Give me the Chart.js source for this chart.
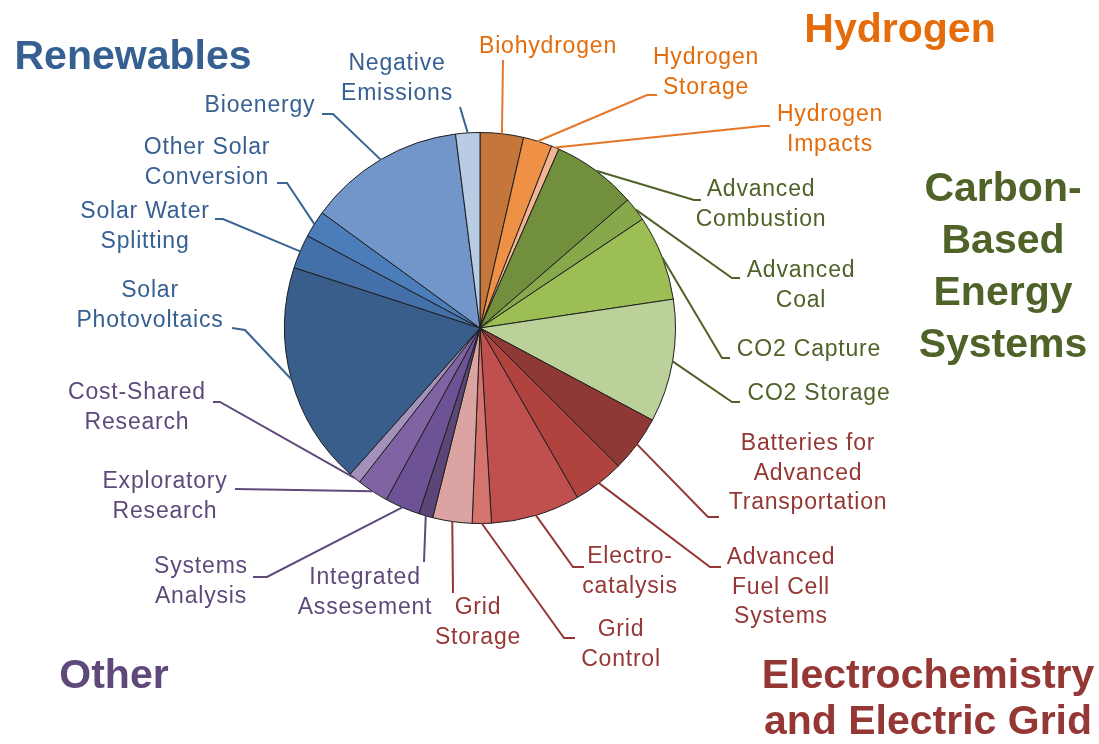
<!DOCTYPE html>
<html>
<head>
<meta charset="utf-8">
<script src="https://cdn.jsdelivr.net/npm/chart.js@4.4.1/dist/chart.umd.min.js"></script>
<style>
html,body{margin:0;background:#fff}
#wrap{width:1099px;height:744px;position:relative}
</style>
</head>
<body>
<div id="wrap"><canvas id="pie"></canvas></div>
<script>
// slices, clockwise from 12 o'clock (share of total, %)
const categories = [
  'Biohydrogen', 'Hydrogen\nStorage', 'Hydrogen\nImpacts',
  'Advanced\nCombustion', 'Advanced\nCoal', 'CO2 Capture', 'CO2 Storage',
  'Batteries for\nAdvanced\nTransportation', 'Advanced\nFuel Cell\nSystems', 'Electro-\ncatalysis',
  'Grid\nControl', 'Grid\nStorage',
  'Integrated\nAssesement', 'Systems\nAnalysis', 'Exploratory\nResearch', 'Cost-Shared\nResearch',
  'Solar\nPhotovoltaics', 'Solar Water\nSplitting', 'Other Solar\nConversion', 'Bioenergy', 'Negative\nEmissions'
]
const values = [
  3.58, 2.39, 0.64,
  7.03, 1.97, 7.03, 10.17,
  4.67, 4.22, 7.36, 1.58, 3.25,
  1.17, 2.89, 2.61, 1.00,
  18.44, 2.81, 2.22, 12.97, 2.00
]
// which group each slice belongs to
const groupOf = [0,0,0, 1,1,1,1, 2,2,2,2,2, 3,3,3,3, 4,4,4,4,4]
const groupNames = ['Hydrogen', 'Carbon-\nBased\nEnergy\nSystems', 'Electrochemistry\nand Electric Grid', 'Other', 'Renewables']

// styles
const sliceColors = [
  '#c5763a', '#ee9147', '#f2b493',
  '#718f3d', '#88a84c', '#9dbd55', '#bcd09a',
  '#8f3936', '#b1433f', '#c0504d', '#d5746f', '#dba3a1',
  '#5c4678', '#6d5395', '#8063a2', '#a391bb',
  '#3a5e8c', '#4370a8', '#4b7dbb', '#7296c9', '#b8cce4'
]
const groupColors = ['#e46c0a', '#4f6228', '#953735', '#5f497a', '#376092']
const lineColors = ['#e5762a', '#4f6228', '#953735', '#5f497a', '#3b6393']

// label layout: text centre x, first-line y, leader elbow, leader end
const labelLayout = [
  {x:548, y:47,  pts:[[503,60]]},
  {x:706, y:58,  pts:[[647,95],[657,95]]},
  {x:830, y:115, pts:[[762,126],[770,126]]},
  {x:761, y:190, pts:[[694,200],[701,200]]},
  {x:801, y:271, pts:[[732,278],[740,278]]},
  {x:809, y:350, pts:[[722,358],[730,358]]},
  {x:819, y:394, pts:[[732,402],[740,402]]},
  {x:808, y:444, pts:[[708,517],[719,517]]},
  {x:781, y:558, pts:[[710,567],[721,567]]},
  {x:630, y:557, pts:[[573,567],[584,567]]},
  {x:621, y:630, pts:[[564,638],[575,638]]},
  {x:478, y:608, pts:[[453,593]]},
  {x:365, y:578, pts:[[424,562]]},
  {x:201, y:567, pts:[[267,577],[253,577]]},
  {x:165, y:482, pts:[[235,489]]},
  {x:137, y:393, pts:[[220,402],[213,402]]},
  {x:150, y:291, pts:[[245,330],[232,328]]},
  {x:145, y:212, pts:[[223,219],[215,219]]},
  {x:207, y:148, pts:[[287,183],[277,183]]},
  {x:260, y:106, pts:[[333,114],[322,114]]},
  {x:397, y:64,  pts:[[460,107]]}
]
const headerLayout = [
  {x:900, y:31, lh:0},
  {x:1003, y:190, lh:52},
  {x:928, y:677, lh:46},
  {x:114, y:677, lh:0},
  {x:133, y:58, lh:0}
]

const calloutPlugin = {
  id: 'callouts',
  afterDraw(chart) {
    const ctx = chart.ctx
    const arcs = chart.getDatasetMeta(0).data
    ctx.save()
    arcs.forEach((arc, i) => {
      const p = arc.getProps(['x','y','startAngle','endAngle','outerRadius'], true)
      const mid = (p.startAngle + p.endAngle) / 2
      const sx = p.x + Math.cos(mid) * p.outerRadius
      const sy = p.y + Math.sin(mid) * p.outerRadius
      const lay = labelLayout[i]
      ctx.strokeStyle = lineColors[groupOf[i]]
      ctx.lineWidth = 2
      ctx.beginPath()
      ctx.moveTo(sx, sy)
      lay.pts.forEach(q => ctx.lineTo(q[0], q[1]))
      ctx.stroke()

      ctx.fillStyle = groupColors[groupOf[i]]
      ctx.font = '23px "Liberation Sans", Arial, sans-serif'
      ctx.letterSpacing = '0.8px'
      ctx.textAlign = 'center'
      ctx.textBaseline = 'middle'
      categories[i].split('\n').forEach((t, k) => ctx.fillText(t, lay.x, lay.y + k * 29.5))
    })
    groupNames.forEach((g, i) => {
      const h = headerLayout[i]
      ctx.fillStyle = groupColors[i]
      ctx.font = 'bold 41px "Liberation Sans", Arial, sans-serif'
      ctx.letterSpacing = '0px'
      ctx.textAlign = 'center'
      ctx.textBaseline = 'middle'
      g.split('\n').forEach((t, k) => ctx.fillText(t, h.x, h.y + k * h.lh))
    })
    ctx.restore()
  }
}

new Chart(document.getElementById('pie'), {
  type: 'pie',
  data: {
    labels: categories,
    datasets: [{
      data: values,
      backgroundColor: sliceColors,
      borderColor: '#1e1e1e',
      borderWidth: 1
    }]
  },
  options: {
    responsive: true,
    maintainAspectRatio: false,
    animation: false,
    layout: {padding: {left: 284, right: 423, top: 132, bottom: 220}},
    plugins: {legend: {display: false}, tooltip: {enabled: false}}
  },
  plugins: [calloutPlugin]
})
</script>
</body>
</html>
